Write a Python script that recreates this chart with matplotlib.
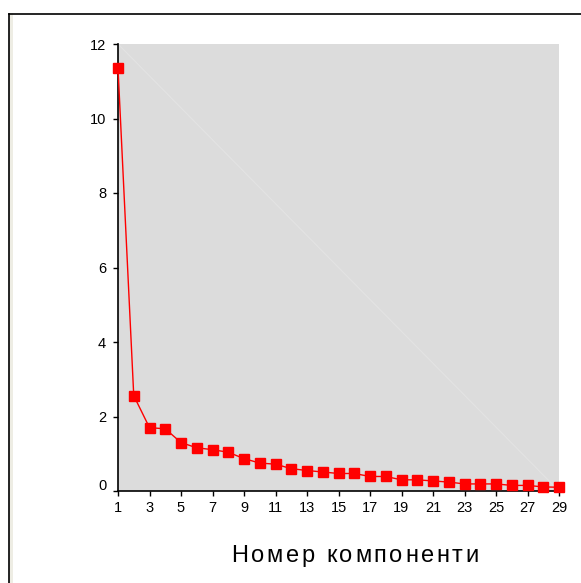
import matplotlib
matplotlib.use("Agg")
import matplotlib.pyplot as plt
from matplotlib.patches import Rectangle
from matplotlib.lines import Line2D
from matplotlib.textpath import TextPath
from matplotlib.font_manager import FontProperties
from matplotlib.transforms import ScaledTranslation

plt.rcParams["font.family"] = ["Liberation Sans", "DejaVu Sans"]

# власні значення (scree plot)
components = list(range(1, 30))
eigenvalues = [11.36, 2.56, 1.70, 1.67, 1.30, 1.16, 1.11, 1.04, 0.87, 0.75,
               0.72, 0.60, 0.55, 0.51, 0.47, 0.47, 0.39, 0.39, 0.30, 0.30,
               0.27, 0.24, 0.19, 0.19, 0.19, 0.15, 0.15, 0.11, 0.10]
xticks = list(range(1, 30, 2))
yticks = [0, 2, 4, 6, 8, 10, 12]
xlabel = "Номер компоненти"

W, H = 581, 583
fig = plt.figure(figsize=(W / 100, H / 100), dpi=100)

# рамка навколо діаграми
fig.add_artist(Rectangle((9 / W, 0), 4 / W, 1 - 13 / H, transform=fig.transFigure,
                         facecolor="#eeede4", edgecolor="none"))
fig.add_artist(Line2D([8.5 / W, 8.5 / W], [0, 1 - 13.5 / H], transform=fig.transFigure,
                      color="black", linewidth=1.2))
fig.add_artist(Line2D([8.5 / W, 1], [1 - 13.5 / H, 1 - 13.5 / H], transform=fig.transFigure,
                      color="black", linewidth=1.2))

ax = fig.add_axes([118 / W, 1 - 491 / H, 441 / W, 447 / H])
ax.set_facecolor("#dcdcdc")
ax.plot([0, 1], [1, 0], transform=ax.transAxes, color="#e3e3e3", linewidth=0.8)
ax.plot(components, eigenvalues, color="red", linewidth=1.0, marker="s",
        markersize=7, markerfacecolor="red", markeredgecolor="red", clip_on=False, zorder=3)

ax.set_xlim(1, 29)
ax.set_ylim(0, 12)
ax.set_xticks(xticks)
ax.set_yticks(yticks)
ax.tick_params(axis="both", direction="out", length=3.5, width=1, labelsize=10.5, colors="black")
ax.tick_params(axis="x", pad=4)
ax.tick_params(axis="y", pad=5)
for side in ["top", "right"]:
    ax.spines[side].set_visible(False)
for side in ["left", "bottom"]:
    ax.spines[side].set_linewidth(1.2)
    ax.spines[side].set_color("black")

# "0" трохи вище, як в Excel
lbl0 = ax.get_yticklabels()[0]
lbl0.set_transform(lbl0.get_transform() + ScaledTranslation(0, 7 / 100, fig.dpi_scale_trans))

# підпис осі X з розрідженими літерами
fsize = 17
spacing = 2.6  # px між літерами
fp = FontProperties(family="Liberation Sans", size=fsize)
px_per_pt = 100 / 72
widths = []
for ch in xlabel:
    if ch == " ":
        w = TextPath((0, 0), "a a", prop=fp).get_extents().width - TextPath((0, 0), "aa", prop=fp).get_extents().width
    else:
        w = TextPath((0, 0), "x" + ch + "x", prop=fp).get_extents().width - TextPath((0, 0), "xx", prop=fp).get_extents().width
    widths.append(w * px_per_pt)
total = sum(widths) + spacing * (len(xlabel) - 1)
x = 355 - total / 2
for ch, w in zip(xlabel, widths):
    fig.text(x / W, 1 - 556 / H, ch, ha="left", va="center", fontsize=fsize)
    x += w + spacing

fig.savefig("out.png", dpi=100, facecolor="white")
